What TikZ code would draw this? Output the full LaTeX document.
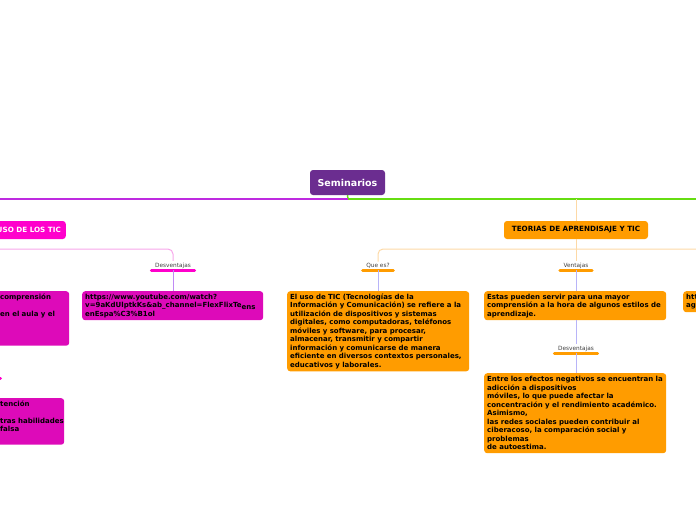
\documentclass[tikz,border=0pt]{standalone}
\usepackage{fontspec}
\setmainfont{DejaVu Sans}
\usetikzlibrary{positioning}

\definecolor{semPurple}{HTML}{6B2D90}
\definecolor{mainViolet}{HTML}{BE2AE0}
\definecolor{mainGreen}{HTML}{66DD11}
\definecolor{hotPink}{HTML}{FF00CC}
\definecolor{notePink}{HTML}{DD0AB9}
\definecolor{pinkLine}{HTML}{F7A6EA}
\definecolor{noteOrange}{HTML}{FF9C00}
\definecolor{orangeLine}{HTML}{FDD9A6}
\definecolor{lavender}{HTML}{B8B4F8}
\definecolor{softViolet}{HTML}{C08AF5}

\begin{document}
\begin{tikzpicture}[x=1pt, y=-1pt,
    topic/.style={rounded corners=3pt, inner xsep=7pt, inner ysep=0pt, minimum height=18pt,
      font=\bfseries\fontsize{7.2}{8}\selectfont},
    note/.style={rounded corners=3pt, anchor=north west, align=left, inner xsep=3pt, inner ysep=2.5pt,
      font=\bfseries\fontsize{7}{8.5}\selectfont},
    tag/.style={anchor=south, inner xsep=3.5pt, inner ysep=1.5pt, text=black!75,
      font=\fontsize{5.8}{6.5}\selectfont},
    bar/.style={line width=3pt, line cap=round},
  ]
  \clip (0,0) rectangle (696,520);

  % Root
  \node[rounded corners=3pt, fill=semPurple, text=white, minimum width=75pt, minimum height=25pt,
    font=\bfseries\fontsize{9.5}{11}\selectfont] (sem) at (347.5,182.5) {Seminarios};
  \coordinate (hub) at (348,199);
  \coordinate (violetEnd) at (0,199);
  \coordinate (greenEnd) at (696,199);

  % Main branches
  \node[topic, fill=hotPink, text=white, anchor=east, inner xsep=5pt] (uso) at (66,230) {USO DE LOS TIC};
  \node[topic, fill=noteOrange, minimum width=144pt] (teo) at (576,230) {TEORIAS DE APRENDISAJE Y TIC};

  \draw[mainGreen, line width=1.5pt] (sem.south) -- (hub);
  \draw[mainViolet, line width=1.5pt] (hub) -- (violetEnd);
  \draw[mainGreen, line width=1.5pt] (hub) -- (greenEnd);
  \draw[orangeLine, line width=1pt] (teo.north |- hub) -- (teo.north);

  % Labels
  \node[tag] (desUso) at (173,270) {Desventajas};
  \node[tag] (queEs) at (378,270) {Que es?};
  \node[tag] (venTeo) at (576,270) {Ventajas};
  \node[tag] (desTeo) at (576,353) {Desventajas};
  \draw[bar, hotPink] (desUso.south west) -- (desUso.south east);
  \draw[bar, noteOrange] (queEs.south west) -- (queEs.south east);
  \draw[bar, noteOrange] (venTeo.south west) -- (venTeo.south east);
  \draw[bar, noteOrange] (desTeo.south west) -- (desTeo.south east);

  % Sub-branch lines
  \coordinate (usoOut) at (0,249);
  \coordinate (teoOut) at (696,249);
  \draw[pinkLine, line width=1pt, rounded corners=5pt] (usoOut) -| (desUso.north);
  \draw[orangeLine, line width=1pt, rounded corners=5pt] (queEs.north) |- (teoOut);
  \draw[orangeLine, line width=1pt] (teo.south) -- (venTeo.north);

  % Notes, left
  \node[note, fill=notePink, text width=66pt, text height=5.5pt, text depth=44pt] (usoA) at (-3,291)
    {comprensión\\ \mbox{}\\ en el aula y el};
  \node[note, fill=notePink, text width=61pt, text height=5.5pt, text depth=36pt] (usoB) at (-3,398)
    {tención\\ \mbox{}\\ \mbox{tras habilidades}\\ falsa};
  \draw[bar, hotPink] (-10,378) -- (0.5,378);
  \node[note, fill=notePink, text width=175pt, minimum height=29pt] (url) at (82,291)
    {https://www.youtube.com/watch?\\
     v=9aKdUlptkKs\&ab\_channel=FlexFlixTe\raisebox{-1.5pt}{ens}\\
     enEspa\%C3\%B1ol};

  % Notes, right
  \node[note, fill=noteOrange, text width=176pt, minimum height=80pt] (queTxt) at (287,291)
    {El uso de TIC (Tecnologías de la\\
     Información y Comunicación) se refiere a la\\
     utilización de dispositivos y sistemas\\
     digitales, como computadoras, teléfonos\\
     móviles y software, para procesar,\\
     almacenar, transmitir y compartir\\
     información y comunicarse de manera\\
     eficiente en diversos contextos personales,\\
     educativos y laborales.};
  \node[note, fill=noteOrange, text width=176pt, minimum height=29pt] (venTxt) at (484,291)
    {Estas pueden servir para una mayor\\
     comprensión a la hora de algunos estilos de\\
     aprendizaje.};
  \node[note, fill=noteOrange, text width=176pt, minimum height=80pt] (desTxt) at (484,373)
    {Entre los efectos negativos se encuentran la\\
     adicción a dispositivos\\
     móviles, lo que puede afectar la\\
     concentración y el rendimiento académico.\\
     Asimismo,\\
     las redes sociales pueden contribuir al\\
     ciberacoso, la comparación social y\\
     problemas\\
     de autoestima.};
  \node[note, fill=noteOrange, text width=40pt, minimum height=21pt] (extra) at (683,291)
    {htt\\ ag};

  % Note connectors
  \draw[softViolet, line width=1pt] (desUso.south) -- (url.north -| desUso.south);
  \draw[lavender, line width=1pt] (queEs.south) -- (queTxt.north -| queEs.south);
  \draw[lavender, line width=1pt] (venTeo.south) -- (venTxt.north -| venTeo.south);
  \draw[lavender, line width=1pt] (venTxt.south -| desTeo.north) -- (desTeo.north);
  \draw[lavender, line width=1pt] (desTeo.south) -- (desTxt.north -| desTeo.south);

\end{tikzpicture}
\end{document}
